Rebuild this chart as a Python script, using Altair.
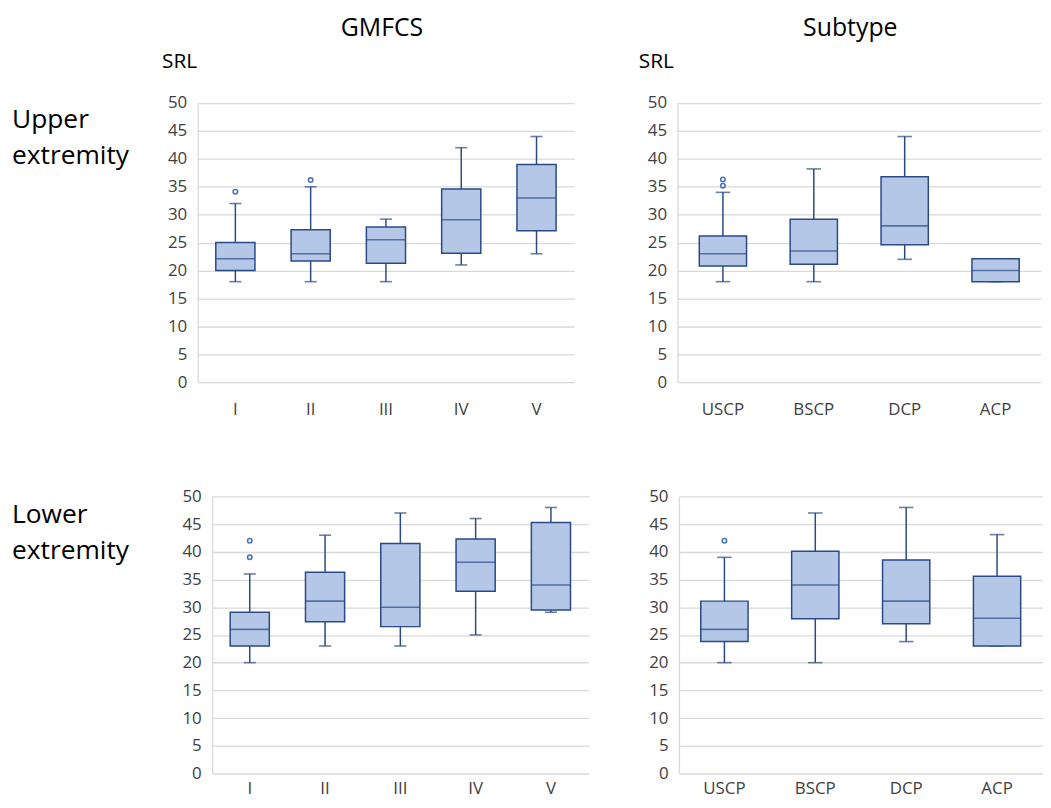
import altair as alt
import pandas as pd

# ---------------- data ----------------
gmfcs_cats = ["I", "II", "III", "IV", "V"]
subtype_cats = ["USCP", "BSCP", "DCP", "ACP"]

# Upper extremity by GMFCS
ue_g_min = [18, 18, 18, 21, 23]
ue_g_q1 = [20, 21.7, 21.3, 23.1, 27.1]
ue_g_med = [22.1, 23, 25.5, 29.1, 33]
ue_g_q3 = [25, 27.3, 27.8, 34.6, 39]
ue_g_max = [32, 35, 29.2, 42, 44]
ue_g_out_cat = ["I", "II"]
ue_g_out_val = [34.1, 36.2]

# Upper extremity by subtype
ue_s_min = [18, 18, 22, 18]
ue_s_q1 = [20.8, 21.1, 24.6, 18]
ue_s_med = [23, 23.5, 28, 20]
ue_s_q3 = [26.2, 29.2, 36.8, 22.1]
ue_s_max = [34, 38.2, 44, 22.1]
ue_s_out_cat = ["USCP", "USCP"]
ue_s_out_val = [35.2, 36.3]

# Lower extremity by GMFCS
le_g_min = [20, 23, 23, 25, 29.1]
le_g_q1 = [23, 27.4, 26.5, 32.9, 29.5]
le_g_med = [26, 31.1, 30, 38.1, 34]
le_g_q3 = [29.1, 36.3, 41.5, 42.3, 45.3]
le_g_max = [36, 43, 47, 46, 48]
le_g_out_cat = ["I", "I"]
le_g_out_val = [39, 42]

# Lower extremity by subtype
le_s_min = [20, 20, 23.8, 23]
le_s_q1 = [23.8, 27.9, 27, 23]
le_s_med = [26, 34, 31.1, 28]
le_s_q3 = [31.1, 40.1, 38.5, 35.6]
le_s_max = [39, 47, 48, 43.1]
le_s_out_cat = ["USCP"]
le_s_out_val = [42]

y_ticks = [0, 5, 10, 15, 20, 25, 30, 35, 40, 45, 50]

# ---------------- style ----------------
FONT = "Open Sans"
BOX_FILL = "#B4C7E7"
DARK = "#2A4A86"
OUT = "#4A72C0"
GRID = "#D9D9D9"
LABEL = "#404040"
BOX_FRAC = 0.52
CAP_FRAC = 0.16


def panel(cats, mins, q1s, meds, q3s, maxs, out_cat, out_val, width, height,
          texts, xpad):
    df = pd.DataFrame({"cat": cats, "min": mins, "q1": q1s, "med": meds,
                       "q3": q3s, "max": maxs})
    odf = pd.DataFrame({"cat": out_cat, "val": out_val})
    band = width / len(cats)
    xenc = alt.X("cat:N", sort=cats, title=None,
                 scale=alt.Scale(domain=cats, paddingInner=0, paddingOuter=0),
                 axis=alt.Axis(labelAngle=0, domain=False, ticks=False, grid=False,
                               labelPadding=xpad, labelFontSize=17, labelColor=LABEL,
                               labelFont=FONT))
    yscale = alt.Scale(domain=[0, 50], nice=False, zero=True)
    yaxis = alt.Axis(values=y_ticks, grid=True, gridColor=GRID, gridWidth=1.3,
                     domain=True, domainColor=GRID, domainWidth=1.3, ticks=False,
                     labelPadding=11, labelFontSize=17, labelColor=LABEL,
                     labelFont=FONT, labelOverlap=False, title=None)

    def Y(f):
        return alt.Y(f, scale=yscale, axis=yaxis, title=None)

    base = alt.Chart(df)
    whisk = base.mark_rule(color=DARK, strokeWidth=1.5).encode(
        x=xenc, y=Y("min:Q"), y2="max:Q")
    cap_lo = base.mark_tick(color=DARK, size=band * CAP_FRAC, thickness=1.6).encode(
        x=xenc, y=Y("min:Q"))
    cap_hi = base.mark_tick(color=DARK, size=band * CAP_FRAC, thickness=1.6).encode(
        x=xenc, y=Y("max:Q"))
    box = base.mark_bar(width={"band": BOX_FRAC}, fill=BOX_FILL, stroke=DARK,
                        strokeWidth=1.5).encode(
        x=xenc, y=Y("q1:Q"), y2="q3:Q")
    med = base.mark_tick(color=DARK, size=band * BOX_FRAC, thickness=1.6).encode(
        x=xenc, y=Y("med:Q"))
    outl = alt.Chart(odf).mark_point(shape="circle", filled=False, stroke=OUT,
                                     strokeWidth=1.6, size=20, opacity=1).encode(
        x=xenc, y=Y("val:Q"))
    layers = [whisk, cap_lo, cap_hi, box, med, outl]
    one = pd.DataFrame({"k": [0]})
    for t in texts:
        layers.append(alt.Chart(one).mark_text(
            text=t["text"], font=FONT, fontSize=t["size"], color="#000000",
            align=t.get("align", "left"), baseline="alphabetic").encode(
            x=alt.value(t["x"]), y=alt.value(t["y"])))
    return alt.layer(*layers).properties(width=width, height=height)


def row_label(lines, width, height, y):
    one = pd.DataFrame({"k": [0]})
    return alt.Chart(one).mark_text(
        text=lines, font=FONT, fontSize=26.5, color="#000000", align="left",
        baseline="alphabetic", lineHeight=36).encode(
        x=alt.value(4), y=alt.value(y)).properties(width=width, height=height)


WL = 379
WR = 366
HT = 281
HB = 279

tl = panel(gmfcs_cats, ue_g_min, ue_g_q1, ue_g_med, ue_g_q3, ue_g_max,
           ue_g_out_cat, ue_g_out_val, WL, HT,
           [{"text": "GMFCS", "size": 25, "x": WL / 2 - 4, "y": -67.5, "align": "center"},
            {"text": "SRL", "size": 21, "x": -36, "y": -35}], 20)
tr = panel(subtype_cats, ue_s_min, ue_s_q1, ue_s_med, ue_s_q3, ue_s_max,
           ue_s_out_cat, ue_s_out_val, WR, HT,
           [{"text": "Subtype", "size": 25, "x": 174, "y": -67.5, "align": "center"},
            {"text": "SRL", "size": 21, "x": -39, "y": -35}], 20)
bl = panel(gmfcs_cats, le_g_min, le_g_q1, le_g_med, le_g_q3, le_g_max,
           le_g_out_cat, le_g_out_val, WL, HB, [], 7)
br = panel(subtype_cats, le_s_min, le_s_q1, le_s_med, le_s_q3, le_s_max,
           le_s_out_cat, le_s_out_val, WR, HB, [], 7)

lab1 = row_label(["Upper", "extremity"], 130, HT, 25)
lab2 = row_label(["Lower", "extremity"], 130, HB, 27)

inner1 = alt.hconcat(lab1, tl, spacing=25)
inner2 = alt.hconcat(lab2, bl, spacing=44.5)
row1 = alt.hconcat(inner1, tr, spacing=65)
row2 = alt.hconcat(inner2, br, spacing=59.5)

chart = alt.vconcat(row1, row2, spacing=70).properties(
    padding={"left": 0, "top": 5, "right": 0, "bottom": 0}
).configure_view(stroke=None)

chart.save("out.html", embed_options={"renderer": "svg", "actions": False})
